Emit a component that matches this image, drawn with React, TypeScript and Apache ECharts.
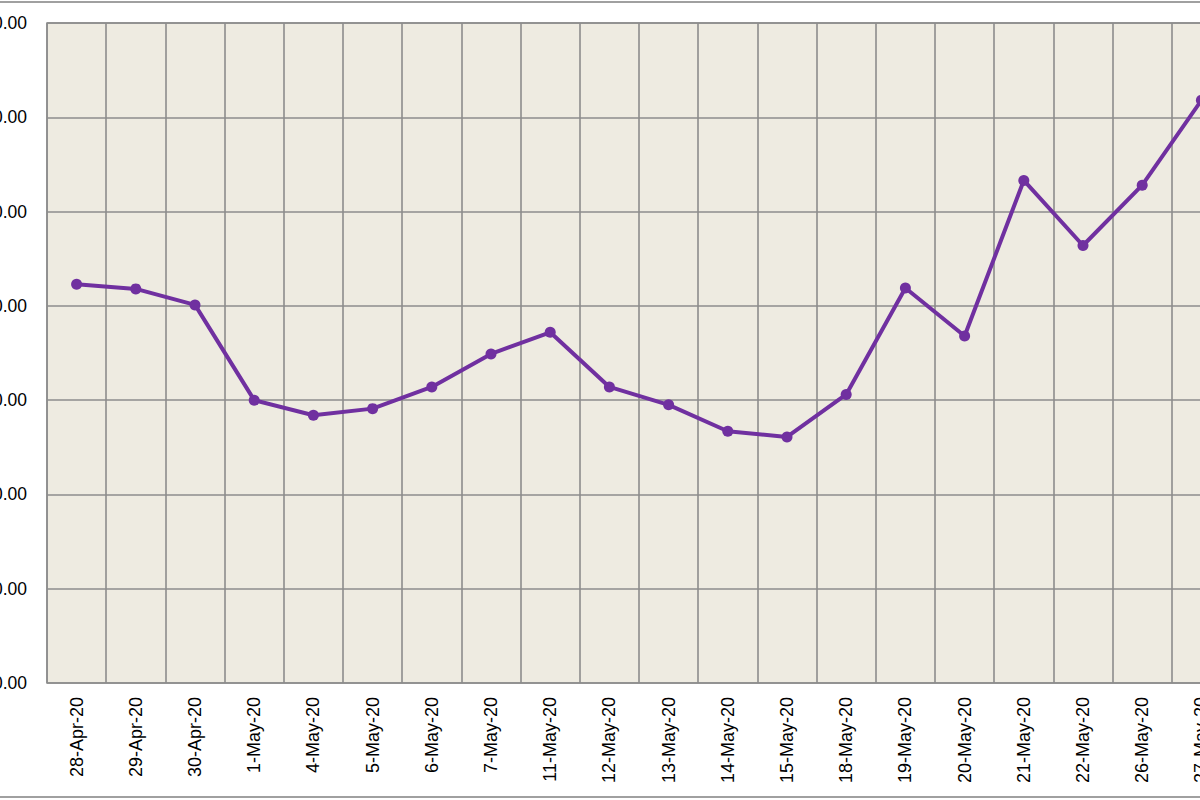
import { useEffect, useRef } from "react";
import * as echarts from "echarts";

const dates = [
  "28-Apr-20", "29-Apr-20", "30-Apr-20", "1-May-20", "4-May-20", "5-May-20",
  "6-May-20", "7-May-20", "11-May-20", "12-May-20", "13-May-20", "14-May-20",
  "15-May-20", "18-May-20", "19-May-20", "20-May-20", "21-May-20", "22-May-20",
  "26-May-20", "27-May-20",
];

const prices = [
  72.3, 71.8, 70.1, 60.0, 58.4, 59.1, 61.4, 64.9, 67.2, 61.4, 59.5, 56.7,
  56.1, 60.6, 71.9, 66.8, 83.3, 76.4, 82.8, 91.8,
];

const yMin = 30;
const yMax = 100;
const yStep = 10;

const PURPLE = "#7030A0";
const GRID = "#8c8c8c";

export default function App() {
  const ref = useRef<HTMLDivElement>(null);

  useEffect(() => {
    if (!ref.current) return;
    const chart = echarts.init(ref.current, undefined, { renderer: "svg" });
    chart.setOption({
      animation: false,
      backgroundColor: "#ffffff",
      grid: {
        left: 85,
        right: 27,
        top: 20,
        bottom: 113,
        show: true,
        backgroundColor: "#EEEBE1",
        borderColor: GRID,
        borderWidth: 1.5,
      },
      xAxis: {
        type: "category",
        data: dates,
        boundaryGap: true,
        axisLine: { show: false },
        axisTick: { show: false },
        axisLabel: {
          rotate: 90,
          margin: 14,
          interval: 0,
          color: "#000",
          fontSize: 18,
          fontFamily: "Liberation Sans, Arial, sans-serif",
        },
        splitLine: { show: true, interval: 0, lineStyle: { color: GRID, width: 1.6 } },
      },
      yAxis: {
        type: "value",
        min: yMin,
        max: yMax,
        interval: yStep,
        axisLine: { show: false },
        axisTick: { show: false },
        axisLabel: {
          margin: 20,
          color: "#000",
          fontSize: 17.5,
          fontFamily: "Liberation Sans, Arial, sans-serif",
          formatter: (v: number) => v.toFixed(2),
        },
        splitLine: { show: true, lineStyle: { color: GRID, width: 1.6 } },
      },
      series: [
        {
          type: "line",
          data: prices,
          symbol: "circle",
          symbolSize: 11,
          lineStyle: { color: PURPLE, width: 4 },
          itemStyle: { color: PURPLE },
        },
      ],
    });
    return () => chart.dispose();
  }, []);

  return (
    <div
      style={{
        position: "fixed",
        left: 0,
        top: 0,
        width: 1200,
        height: 800,
        overflow: "hidden",
        background: "#fff",
      }}
    >
      <div
        style={{
          position: "absolute",
          left: -40,
          top: 1,
          width: 1300,
          height: 797,
          boxSizing: "border-box",
          border: "2px solid #a0a0a0",
        }}
      >
        <div ref={ref} style={{ width: "100%", height: "100%" }} />
      </div>
    </div>
  );
}
